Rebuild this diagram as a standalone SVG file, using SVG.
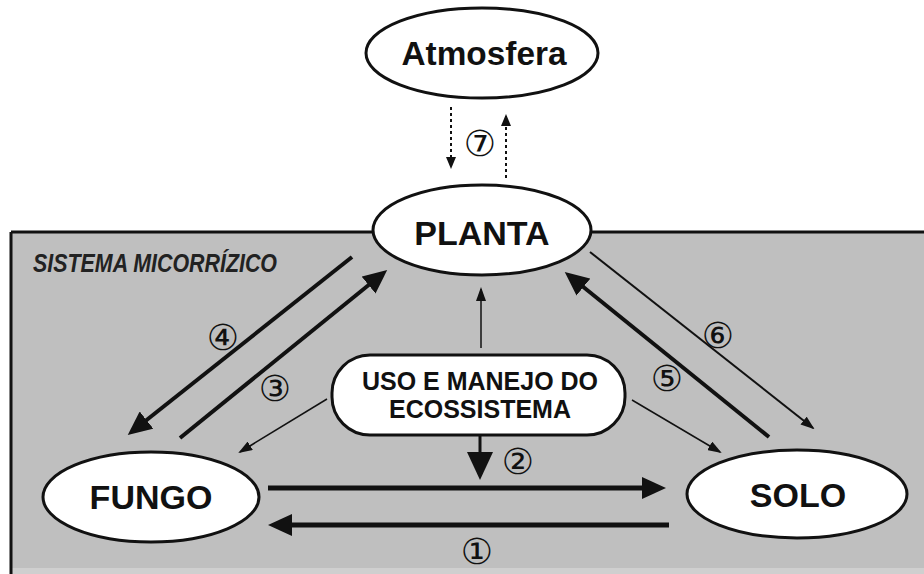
<svg xmlns="http://www.w3.org/2000/svg" width="924" height="574" viewBox="0 0 924 574">
<style>
.node{fill:#fff;stroke:#111;stroke-width:3}
.lbl{font-family:"Liberation Sans",Arial,sans-serif;font-weight:bold;fill:#111;text-anchor:middle}
.num{font-family:"DejaVu Sans","Noto Sans CJK JP",sans-serif;font-size:36px;fill:#111;text-anchor:middle}
.thick{stroke:#111;fill:none}
</style>
<defs>
<marker id="big" markerUnits="userSpaceOnUse" markerWidth="24" markerHeight="22" refX="16" refY="11" orient="auto"><path d="M0,0 L24,11 L0,22 z" fill="#111"/></marker>
<marker id="big2" markerUnits="userSpaceOnUse" markerWidth="28" markerHeight="26" refX="20" refY="13" orient="auto"><path d="M0,0 L28,13 L0,26 z" fill="#111"/></marker>
<marker id="small" markerUnits="userSpaceOnUse" markerWidth="14" markerHeight="10" refX="12" refY="5" orient="auto"><path d="M0,0 L14,5 L0,10 z" fill="#111"/></marker>
<marker id="dot" markerUnits="userSpaceOnUse" markerWidth="12" markerHeight="10" refX="10" refY="5" orient="auto"><path d="M0,0 L12,5 L0,10 z" fill="#111"/></marker>
</defs>
<rect x="0" y="0" width="924" height="574" fill="#fff"/>
<g id="sistema">
<rect x="11" y="232" width="920" height="336" fill="#bfbfbf"/>
<rect x="11" y="568" width="920" height="6" fill="#cfcfcf"/>
<line x1="11" y1="232" x2="924" y2="232" stroke="#111" stroke-width="3"/>
<line x1="11" y1="232" x2="11" y2="574" stroke="#111" stroke-width="3"/>
<text x="33" y="272" font-family="'Liberation Sans',Arial,sans-serif" font-weight="bold" font-style="italic" font-size="25" fill="#222" textLength="244" lengthAdjust="spacingAndGlyphs">SISTEMA MICORRÍZICO</text>
</g>
<g id="connectors">
<line x1="451" y1="107" x2="451" y2="167" stroke="#111" stroke-width="2" stroke-dasharray="3,3" marker-end="url(#dot)"/>
<line x1="506" y1="178" x2="506" y2="116" stroke="#111" stroke-width="2" stroke-dasharray="3,3" marker-end="url(#dot)"/>
<line x1="352" y1="257" x2="134" y2="430" class="thick" stroke-width="4" marker-end="url(#big)"/>
<line x1="180" y1="438" x2="381" y2="275" class="thick" stroke-width="4" marker-end="url(#big)"/>
<line x1="769" y1="437" x2="571" y2="277" class="thick" stroke-width="4" marker-end="url(#big)"/>
<line x1="590" y1="252" x2="813" y2="428" class="thick" stroke-width="2" marker-end="url(#small)"/>
<line x1="268" y1="488" x2="658" y2="488" class="thick" stroke-width="5" marker-end="url(#big)"/>
<line x1="669" y1="525" x2="276" y2="525" class="thick" stroke-width="5" marker-end="url(#big)"/>
<line x1="480" y1="435" x2="480" y2="472" class="thick" stroke-width="3" marker-end="url(#big2)"/>
<line x1="481" y1="348" x2="481" y2="289" class="thick" stroke-width="1.5" marker-end="url(#small)"/>
<line x1="327" y1="399" x2="240" y2="452" class="thick" stroke-width="1.5" marker-end="url(#small)"/>
<line x1="632" y1="400" x2="720" y2="452" class="thick" stroke-width="1.5" marker-end="url(#small)"/>
<text class="num" x="480" y="156">⑦</text>
<text class="num" x="223" y="350">④</text>
<text class="num" x="275" y="401">③</text>
<text class="num" x="718" y="348">⑥</text>
<text class="num" x="667" y="391">⑤</text>
<text class="num" x="518" y="474">②</text>
<text class="num" x="477" y="564">①</text>
</g>
<g id="atmosfera">
<ellipse class="node" cx="482" cy="53" rx="116" ry="45"/>
<text class="lbl" x="484" y="65" font-size="33" textLength="165" lengthAdjust="spacingAndGlyphs">Atmosfera</text>
</g>
<g id="planta">
<ellipse class="node" cx="482" cy="230" rx="109" ry="45"/>
<text class="lbl" x="482" y="245" font-size="34">PLANTA</text>
</g>
<g id="uso">
<rect class="node" x="332" y="355" width="293" height="80" rx="38" ry="38"/>
<text class="lbl" x="480" y="390" font-size="25">USO E MANEJO DO</text>
<text class="lbl" x="480" y="418" font-size="25">ECOSSISTEMA</text>
</g>
<g id="fungo">
<ellipse class="node" cx="151" cy="497" rx="108" ry="45"/>
<text class="lbl" x="151" y="509" font-size="34">FUNGO</text>
</g>
<g id="solo">
<ellipse class="node" cx="797" cy="494" rx="110" ry="44"/>
<text class="lbl" x="798" y="507" font-size="34">SOLO</text>
</g>
</svg>
